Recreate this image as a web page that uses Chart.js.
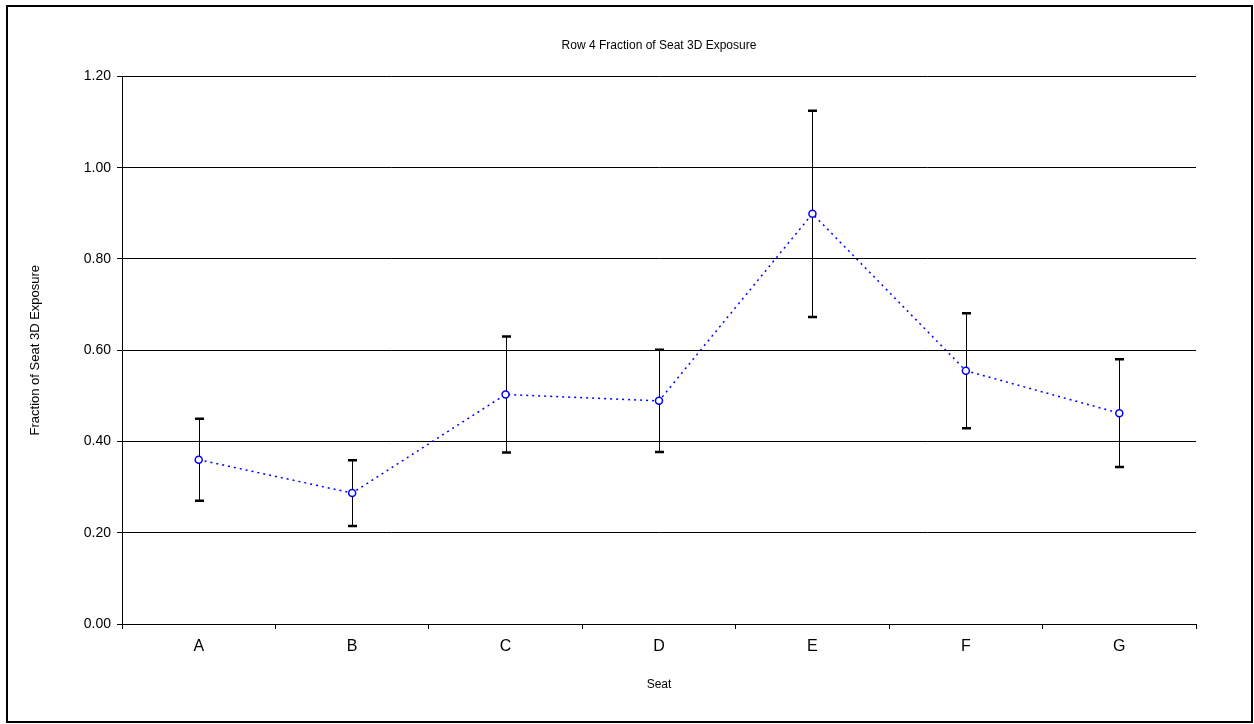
<!DOCTYPE html>
<html>
<head>
<meta charset="utf-8">
<title>Row 4 Fraction of Seat 3D Exposure</title>
<script src="https://cdn.jsdelivr.net/npm/chart.js@4.4.0/dist/chart.umd.min.js"></script>
<style>
  body { margin: 0; background: #fff; }
  #wrap { width: 1254px; height: 724px; position: relative; }
</style>
</head>
<body>
<div id="wrap"><canvas id="seat-chart" width="1254" height="724"></canvas></div>
<script>
// data
const seats = ["A", "B", "C", "D", "E", "F", "G"];
const exposure = [0.360, 0.287, 0.503, 0.489, 0.899, 0.555, 0.462];
const errors = [0.090, 0.072, 0.127, 0.112, 0.226, 0.126, 0.118];
const yTicks = [0, 0.2, 0.4, 0.6, 0.8, 1.0, 1.2];

const font = "'Liberation Sans', Arial, sans-serif";

// vertical error bars with flat caps, drawn under the points
const errorBars = {
  id: 'errorBars',
  beforeDatasetsDraw(chart) {
    const ctx = chart.ctx;
    const x = chart.scales.x, y = chart.scales.y;
    ctx.save();
    ctx.strokeStyle = '#000';
    exposure.forEach((v, i) => {
      const px = Math.round(x.getPixelForValue(i)) + 0.5;
      const top = y.getPixelForValue(v + errors[i]);
      const bot = y.getPixelForValue(v - errors[i]);
      ctx.lineWidth = 1;
      ctx.beginPath();
      ctx.moveTo(px, top);
      ctx.lineTo(px, bot);
      ctx.stroke();
      ctx.lineWidth = 2.5;
      ctx.beginPath();
      ctx.moveTo(px - 4.5, top);
      ctx.lineTo(px + 4.5, top);
      ctx.moveTo(px - 4.5, bot);
      ctx.lineTo(px + 4.5, bot);
      ctx.stroke();
    });
    ctx.restore();
  }
};

// black frame round the whole picture
const frame = {
  id: 'frame',
  afterDraw(chart) {
    const ctx = chart.ctx;
    ctx.save();
    ctx.strokeStyle = '#000';
    ctx.lineWidth = 2;
    ctx.strokeRect(7, 6, 1245, 716);
    ctx.restore();
  }
};

document.addEventListener("DOMContentLoaded", function () {
  let ctx = document.getElementById('seat-chart');
  new Chart(ctx, {
    type: 'line',
    data: {
      labels: seats,
      datasets: [{
        label: 'Fraction of Seat 3D Exposure',
        data: exposure,
        borderColor: '#0000ff',
        borderWidth: 1.5,
        borderDash: [2, 4],
        pointRadius: 3.5,
        pointBorderWidth: 1.5,
        pointBackgroundColor: '#ffffff',
        pointBorderColor: '#0000ff',
        fill: false,
        tension: 0
      }]
    },
    options: {
      responsive: false,
      animation: false,
      layout: { padding: { left: 0, right: 58, top: 0, bottom: 0 } },
      plugins: {
        legend: { display: false },
        tooltip: { enabled: false },
        title: {
          display: true,
          fullSize: false,
          text: 'Row 4 Fraction of Seat 3D Exposure',
          color: '#000',
          font: { family: font, size: 12, weight: 'normal' },
          padding: { top: 38, bottom: 24 }
        }
      },
      scales: {
        x: {
          type: 'category',
          offset: true,
          grid: {
            offset: true,
            drawOnChartArea: false,
            color: '#000',
            tickLength: 5
          },
          border: { color: '#000', width: 1 },
          ticks: {
            color: '#000',
            font: { family: font, size: 16 },
            padding: 8,
            maxRotation: 0
          },
          title: {
            display: true,
            text: 'Seat',
            color: '#000',
            font: { family: font, size: 12 },
            padding: { top: 0, bottom: 32 }
          },
          afterFit(scale) { scale.height = 100; }
        },
        y: {
          min: 0,
          max: 1.2,
          grid: { color: '#000', tickLength: 5 },
          border: { color: '#000', width: 1 },
          afterBuildTicks(scale) {
            scale.ticks = yTicks.map(v => ({ value: v }));
          },
          ticks: {
            color: '#000',
            font: { family: font, size: 14 },
            padding: 6,
            callback: v => Number(v).toFixed(2)
          },
          title: {
            display: true,
            text: 'Fraction of Seat 3D Exposure',
            color: '#000',
            font: { family: font, size: 13 },
            padding: { top: 28, bottom: 0 }
          },
          afterFit(scale) { scale.width = 122; }
        }
      }
    },
    plugins: [errorBars, frame]
  });
});
</script>
</body>
</html>
